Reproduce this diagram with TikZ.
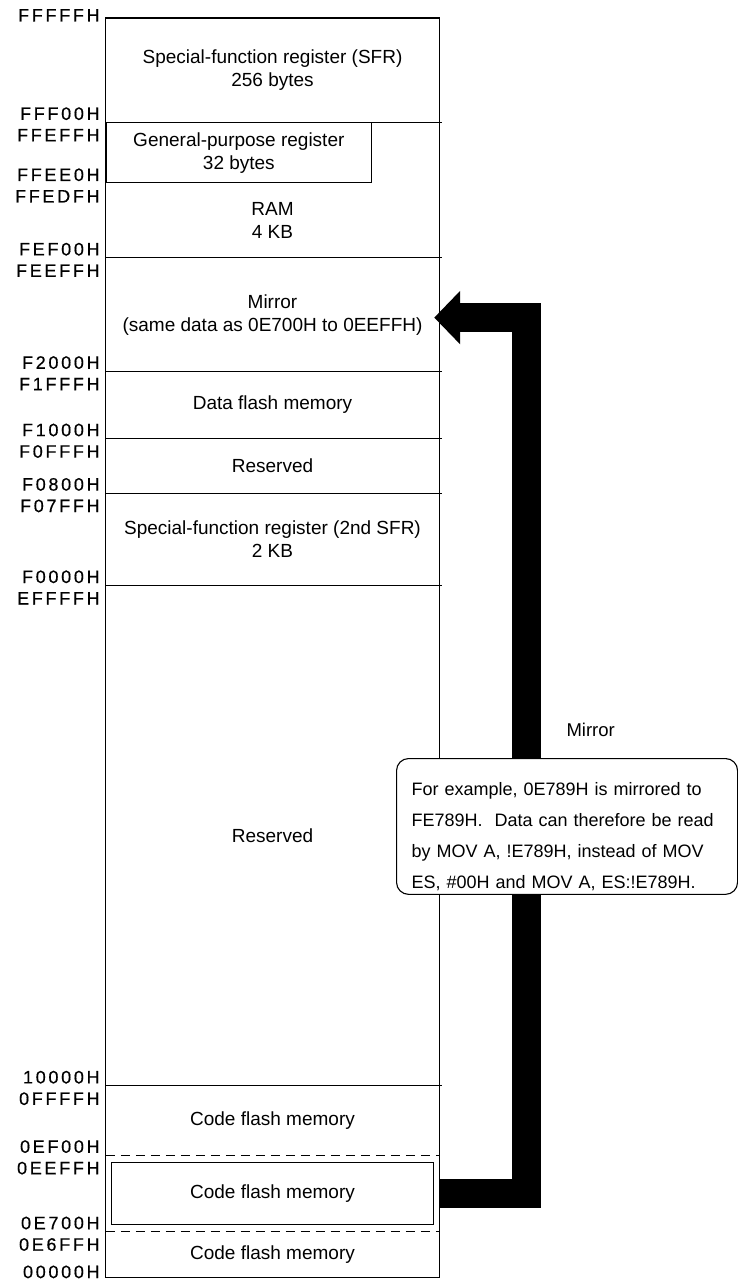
\documentclass[tikz,border=0pt]{standalone}
\usepackage{fontspec}
\setmainfont{Liberation Sans}
\newfontfamily\addrfont[LetterSpace=15,FakeBold=0.5]{Liberation Sans}
\usetikzlibrary{arrows.meta,positioning}

\begin{document}
\begin{tikzpicture}[
    x=1pt, y=-1pt,
    node distance=0pt,
    region/.style={rectangle, minimum width=333pt, inner sep=0pt, align=center, font=\fontsize{19}{23}\selectfont},
    addr/.style={font=\addrfont\fontsize{18}{18}\selectfont, inner sep=0pt, anchor=base east},
    sep/.style={line width=1.1pt, shorten >=-3pt},
    flashsep/.style={line width=1.1pt, dash pattern=on 9pt off 6pt},
    mirrorarrow/.style={line width=29pt, line join=miter, -{Triangle[length=26pt, width=52pt]}, shorten >=-5pt},
    note/.style={rectangle, draw, fill=white, rounded corners=12pt, line width=1.1pt, align=left, text width=311pt, inner xsep=15pt, inner ysep=4pt, font=\fontsize{18}{31}\selectfont}
]
\useasboundingbox (0,0) rectangle (738,1281);
% memory map, top to bottom
\node[region, minimum height=104pt, anchor=north] (sfr) at (272.5,18) {Special-function register (SFR)\\256 bytes};
\node[region, draw, line width=1.1pt, minimum width=265pt, minimum height=60pt, anchor=north west] (gpr) at (sfr.south west) {General-purpose register\\32 bytes};
\coordinate (ramtop) at (sfr.south |- gpr.south);
\node[region, below=of ramtop, minimum height=74pt] (ram) {RAM\\4 KB};
\node[region, below=of ram, minimum height=113pt] (mirror) {Mirror\\(same data as 0E700H to 0EEFFH)};
\node[region, below=of mirror, minimum height=67pt] (dflash) {Data flash memory};
\node[region, below=of dflash, minimum height=54pt] (resA) {Reserved};
\node[region, below=of resA, minimum height=92pt] (sfr2) {Special-function register (2nd SFR)\\2 KB};
\node[region, below=of sfr2, minimum height=500pt] (resB) {Reserved};
\node[region, below=of resB, minimum height=69pt] (codeC) {Code flash memory};
\node[region, below=of codeC, minimum height=76pt] (codeB) {Code flash memory};
\node[region, below=of codeB, minimum height=45pt] (codeA) {Code flash memory};

% outline and boundaries
\draw[line width=1.1pt] (sfr.north west) rectangle (codeA.south east);
\foreach \n in {sfr,ram,mirror,dflash,resA,sfr2,resB}
  \draw[sep] (\n.south west) -- (\n.south east);
\foreach \n in {codeC,codeB}
  \draw[flashsep] (\n.south west) -- (\n.south east);
\draw[line width=1.1pt] ([shift={(6pt,-7pt)}]codeB.north west) rectangle ([shift={(-6pt,7pt)}]codeB.south east);

% addresses
\node[addr] (a-top) at ([shift={(-6pt,-3.5pt)}]sfr.north west) {FFFFFH};
\foreach \n/\ahi/\alo in {sfr/FFF00H/FFEFFH, gpr/FFEE0H/FFEDFH, ram/FEF00H/FEEFFH, mirror/F2000H/F1FFFH, dflash/F1000H/F0FFFH, resA/F0800H/F07FFH, sfr2/F0000H/EFFFFH, resB/10000H/0FFFFH, codeC/0EF00H/0EEFFH, codeB/0E700H/0E6FFH} {
  \node[addr] (hi-\n) at ([shift={(-6pt,2.5pt)}]\n.south west) {\ahi};
  \node[addr] (lo-\n) at ([shift={(-6pt,-19pt)}]\n.south west) {\alo};
}
\node[addr] (a-bottom) at ([shift={(-6pt,-1pt)}]codeA.south west) {00000H};

% mirror arrow and note
\draw[mirrorarrow] (codeB.east) -- ++(87.5pt,0) |- ([yshift=-3pt]mirror.east);
\node[font=\fontsize{18.5}{22}\selectfont, anchor=west] (mirrortag) at (563,730) {Mirror};
\node[note, anchor=north west] (note) at (396,758) {\rule{0pt}{32.5pt}For example, 0E789H is mirrored to\\FE789H.~ Data can therefore be read\\by MOV A, !E789H, instead of MOV\\ES, \#00H and MOV A, ES:!E789H.};
\end{tikzpicture}
\end{document}
